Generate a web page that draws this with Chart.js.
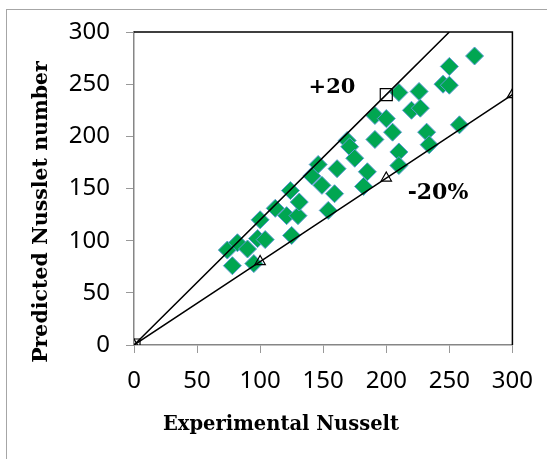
<!DOCTYPE html>
<html>
<head>
<meta charset="utf-8">
<script src="https://cdn.jsdelivr.net/npm/chart.js@4.4.1/dist/chart.umd.min.js"></script>
<style>
  html, body { margin: 0; padding: 0; background: #fff; }
  #wrap { position: relative; width: 547px; height: 459px; overflow: hidden; }
</style>
</head>
<body>
<div id="wrap"><canvas id="chart" width="547" height="459"></canvas></div>
<script>
// Predicted vs experimental Nusselt number, with +/-20% bands

const expNu = [74, 78, 82, 90, 95, 98, 100, 104, 112, 121, 124, 125, 130, 131,
  141, 146, 149, 154, 159, 161, 169, 171, 175, 182, 185, 191, 191, 200, 205,
  210, 210, 210, 220, 226, 227, 232, 234, 245, 250, 250, 258, 270];
const predNu = [91, 76, 98, 92, 78, 102, 120, 101, 131, 124, 148, 105, 124, 137,
  162, 173, 153, 129, 145, 169, 196, 190, 179, 152, 166, 220, 197, 217, 204,
  242, 185, 172, 225, 243, 227, 204, 192, 250, 249, 267, 211, 277];

// +20% and -20% reference lines
const plusX = [0, 200, 250];
const plusY = [0, 240, 300];
const minusX = [0, 100, 200, 300];
const minusY = [0, 80, 160, 240];

const tickValues = [0, 50, 100, 150, 200, 250, 300];

const SERIF = "'DejaVu Serif', 'Liberation Serif', serif";
const SANS = "'Noto Sans', 'Open Sans', sans-serif";

function toPoints(xs, ys) {
  return xs.map((x, i) => ({ x: x, y: ys[i] }));
}

// background, outer frame, plot border, titles and band labels
const decor = {
  id: 'decor',
  beforeDraw(chart) {
    const ctx = chart.ctx;
    ctx.save();
    ctx.fillStyle = '#fff';
    ctx.fillRect(0, 0, chart.width, chart.height);
    ctx.strokeStyle = '#a6a6a6';
    ctx.lineWidth = 1;
    ctx.strokeRect(6.5, 9.5, 800, 800);
    ctx.restore();
  },
  afterDraw(chart) {
    const ctx = chart.ctx;
    const a = chart.chartArea;
    const sx = chart.scales.x, sy = chart.scales.y;
    ctx.save();
    // top and right frame in black
    ctx.strokeStyle = '#000';
    ctx.lineWidth = 1.5;
    ctx.beginPath();
    ctx.moveTo(a.left, a.top);
    ctx.lineTo(a.right, a.top);
    ctx.lineTo(a.right, a.bottom);
    ctx.stroke();

    ctx.fillStyle = '#000';
    ctx.textAlign = 'center';
    ctx.textBaseline = 'middle';
    ctx.font = 'bold 19.5px ' + SERIF;
    ctx.fillText('Experimental Nusselt', 281, 425);
    ctx.save();
    ctx.translate(42, 212);
    ctx.rotate(-Math.PI / 2);
    ctx.font = 'bold 20.5px ' + SERIF;
    ctx.fillText('Predicted Nusslet number', 0, 0);
    ctx.restore();

    ctx.font = 'bold 21px ' + SERIF;
    ctx.fillText('+20', sx.getPixelForValue(157), sy.getPixelForValue(247));
    ctx.font = 'bold 22px ' + SERIF;
    ctx.fillText('-20%', sx.getPixelForValue(241), sy.getPixelForValue(145));
    ctx.restore();
  }
};

const axisCommon = {
  type: 'linear',
  min: 0,
  max: 300,
  afterBuildTicks: s => { s.ticks = tickValues.map(v => ({ value: v })); },
  grid: { drawOnChartArea: false, drawTicks: true, tickLength: 8, color: '#999', lineWidth: 1 },
  border: { color: '#868686', width: 1.5 },
};

new Chart(document.getElementById('chart'), {
  data: {
    datasets: [
      {
        type: 'line',
        label: '+20%',
        data: toPoints(plusX, plusY),
        borderColor: '#000',
        borderWidth: 1.5,
        pointStyle: 'rect',
        pointRadius: [8.5, 8.5, 0],
        pointBorderColor: '#000',
        pointBackgroundColor: 'rgba(255,255,255,0)',
        pointBorderWidth: 1.2,
        fill: false,
        order: 0
      },
      {
        type: 'line',
        label: '-20%',
        data: toPoints(minusX, minusY),
        borderColor: '#000',
        borderWidth: 1.5,
        pointStyle: 'triangle',
        pointRadius: 6,
        pointBorderColor: '#000',
        pointBackgroundColor: 'rgba(255,255,255,0)',
        pointBorderWidth: 1.2,
        fill: false,
        order: 0
      },
      {
        type: 'scatter',
        label: 'Data',
        data: toPoints(expNu, predNu),
        pointStyle: 'rectRot',
        pointRadius: 9,
        backgroundColor: '#00a651',
        borderColor: '#5b9bd5',
        borderWidth: 1,
        order: 1
      }
    ]
  },
  options: {
    responsive: false,
    animation: false,
    layout: { padding: { left: 0, right: 34, top: 32, bottom: 0 } },
    plugins: { legend: { display: false }, tooltip: { enabled: false } },
    scales: {
      x: Object.assign({}, axisCommon, {
        position: 'bottom',
        afterFit: s => { s.height = 114; },
        ticks: { color: '#000', font: { family: SANS, size: 24 }, padding: 14 }
      }),
      y: Object.assign({}, axisCommon, {
        position: 'left',
        afterFit: s => { s.width = 134; },
        ticks: { color: '#000', font: { family: SANS, size: 24 }, padding: 16 }
      })
    }
  },
  plugins: [decor]
});
</script>
</body>
</html>
